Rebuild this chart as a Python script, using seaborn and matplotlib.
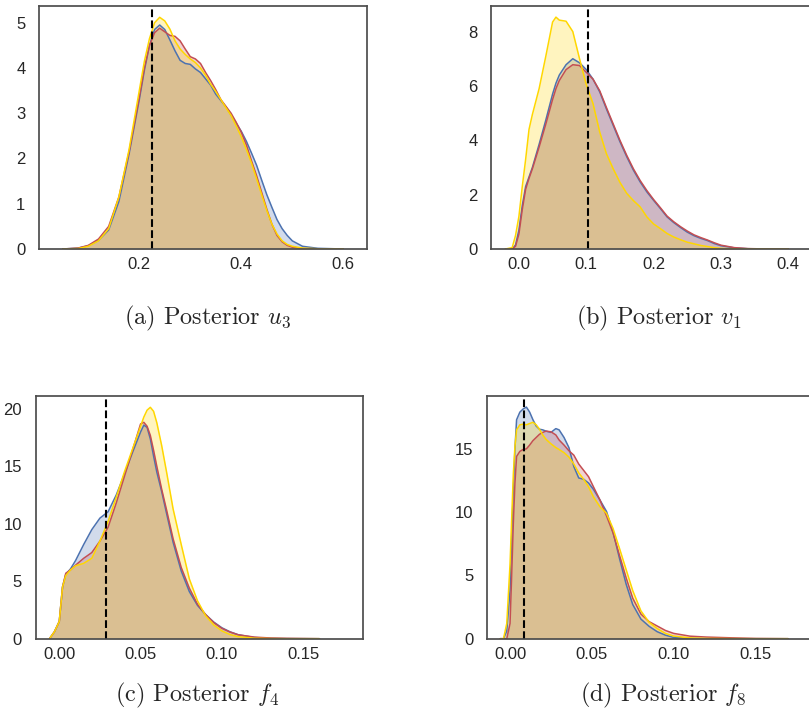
import numpy as np
import pandas as pd
import matplotlib
matplotlib.use("Agg")
import matplotlib.pyplot as plt
import seaborn as sns

# ---------------- data ----------------
series_names = ["blue", "red", "yellow"]
line_colors = {"blue": "#4C72B0", "red": "#C44E52", "yellow": "#FFD700"}

# (a) Posterior u3
a_x = [0.05, 0.08, 0.10, 0.12, 0.14, 0.16, 0.18, 0.20, 0.21, 0.22, 0.23, 0.24, 0.25,
       0.26, 0.27, 0.28, 0.29, 0.30, 0.31, 0.32, 0.33, 0.34, 0.35, 0.36, 0.37, 0.38,
       0.39, 0.40, 0.41, 0.42, 0.43, 0.44, 0.45, 0.46, 0.47, 0.48, 0.49, 0.50, 0.52,
       0.55, 0.60]
a_blue = [0, 0.02, 0.07, 0.19, 0.42, 1.05, 2.1, 3.3, 3.95, 4.5, 4.85, 4.95, 4.85,
          4.62, 4.38, 4.17, 4.1, 4.08, 3.98, 3.9, 3.76, 3.62, 3.42, 3.28, 3.14, 2.96,
          2.78, 2.6, 2.38, 2.12, 1.85, 1.52, 1.2, 0.92, 0.65, 0.45, 0.3, 0.18, 0.06,
          0.015, 0]
a_red = [0, 0.02, 0.08, 0.22, 0.5, 1.15, 2.15, 3.35, 4.0, 4.5, 4.78, 4.88, 4.8,
         4.72, 4.7, 4.6, 4.42, 4.25, 4.2, 4.1, 3.9, 3.72, 3.52, 3.3, 3.15, 3.0,
         2.8, 2.58, 2.3, 1.95, 1.62, 1.25, 0.88, 0.55, 0.3, 0.16, 0.08, 0.04, 0.01,
         0.005, 0]
a_yellow = [0, 0.01, 0.06, 0.18, 0.45, 1.15, 2.2, 3.5, 4.15, 4.65, 5.0, 5.12, 5.04,
            4.86, 4.6, 4.42, 4.3, 4.2, 4.12, 4.0, 3.84, 3.64, 3.48, 3.3, 3.12, 2.95,
            2.72, 2.48, 2.2, 1.9, 1.55, 1.2, 0.85, 0.55, 0.33, 0.18, 0.1, 0.06, 0.02,
            0.005, 0]
a_truth = 0.224

# (b) Posterior v1
b_x = [-0.02, -0.01, -0.005, 0.0, 0.005, 0.01, 0.015, 0.02, 0.03, 0.04, 0.05, 0.055,
       0.06, 0.07, 0.08, 0.09, 0.10, 0.11, 0.12, 0.13, 0.14, 0.15, 0.16, 0.17, 0.18,
       0.19, 0.20, 0.21, 0.22, 0.23, 0.24, 0.25, 0.26, 0.27, 0.28, 0.29, 0.30, 0.32,
       0.34, 0.37, 0.40]
b_blue = [0, 0, 0.15, 0.7, 1.6, 2.3, 2.65, 3.0, 3.85, 4.75, 5.7, 6.1,
          6.4, 6.78, 7.0, 6.85, 6.6, 6.25, 5.78, 5.15, 4.55, 3.95, 3.4, 2.9, 2.47,
          2.1, 1.79, 1.49, 1.18, 0.97, 0.79, 0.62, 0.49, 0.39, 0.31, 0.2, 0.12, 0.04,
          0.01, 0, 0]
b_red = [0, 0, 0.1, 0.55, 1.45, 2.2, 2.6, 2.95, 3.75, 4.6, 5.5, 5.9,
         6.2, 6.6, 6.78, 6.75, 6.5, 6.25, 5.82, 5.2, 4.6, 4.0, 3.45, 2.95, 2.52,
         2.15, 1.82, 1.52, 1.21, 1.0, 0.82, 0.66, 0.52, 0.42, 0.33, 0.23, 0.14, 0.05,
         0.015, 0, 0]
b_yellow = [0, 0.05, 0.5, 1.2, 2.3, 3.3, 4.4, 4.95, 5.9, 7.1, 8.35, 8.53,
            8.42, 8.38, 8.0, 7.0, 6.05, 5.35, 4.3, 3.5, 2.95, 2.45, 2.05, 1.78, 1.55,
            1.18, 0.92, 0.75, 0.57, 0.44, 0.34, 0.25, 0.19, 0.13, 0.09, 0.05, 0.02, 0.005,
            0, 0, 0]
b_truth = 0.103

# (c) Posterior f4
c_x = [-0.006, -0.003, 0.0, 0.002, 0.004, 0.007, 0.010, 0.015, 0.020, 0.025, 0.030,
       0.035, 0.040, 0.045, 0.050, 0.052, 0.054, 0.056, 0.058, 0.060, 0.063, 0.066,
       0.070, 0.075, 0.080, 0.085, 0.090, 0.095, 0.100, 0.105, 0.110, 0.120, 0.130,
       0.140, 0.160]
c_blue = [0, 0.6, 1.5, 4.5, 5.6, 6.1, 6.8, 8.2, 9.5, 10.5, 11.05,
          12.5, 14.3, 16.2, 18.0, 18.6, 18.4, 17.4, 15.9, 14.5, 12.8, 10.9,
          8.4, 5.9, 4.1, 2.9, 2.1, 1.45, 0.95, 0.6, 0.35, 0.1, 0.03,
          0.01, 0]
c_red = [0, 0.6, 1.5, 4.5, 5.7, 6.0, 6.4, 7.0, 7.5, 8.5, 9.7,
         11.8, 14.1, 16.4, 18.7, 18.84, 18.5, 17.7, 16.4, 15.0, 13.0, 11.2,
         8.7, 6.2, 4.4, 3.0, 2.1, 1.4, 0.9, 0.58, 0.34, 0.14, 0.06,
         0.03, 0]
c_yellow = [0, 0.6, 1.5, 4.5, 5.5, 6.0, 6.35, 6.56, 7.0, 8.5, 10.2,
            12.3, 14.5, 16.5, 18.5, 19.3, 19.9, 20.15, 19.8, 18.8, 16.8, 14.5,
            11.3, 8.2, 5.2, 3.3, 2.0, 1.2, 0.68, 0.36, 0.18, 0.04, 0.01,
            0, 0]
c_truth = 0.0288

# (d) Posterior f8
d_x = [-0.006, -0.004, -0.002, 0.0, 0.001, 0.002, 0.003, 0.004, 0.006, 0.008, 0.010,
       0.012, 0.014, 0.016, 0.018, 0.020, 0.022, 0.025, 0.028, 0.030, 0.033, 0.036,
       0.039, 0.042, 0.045, 0.048, 0.051, 0.055, 0.059, 0.063, 0.067, 0.071, 0.075,
       0.080, 0.085, 0.090, 0.095, 0.100, 0.110, 0.120, 0.135, 0.150, 0.170]
d_blue = [0, 0, 0.6, 3.8, 8.0, 11.7, 15.0, 17.3, 17.9, 18.15, 18.3,
          17.9, 17.3, 16.8, 16.55, 16.5, 16.4, 16.3, 16.6, 16.5, 15.9, 15.1,
          13.6, 12.7, 12.6, 12.3, 11.8, 10.95, 10.05, 8.4, 6.3, 4.3, 2.7,
          1.55, 0.98, 0.55, 0.28, 0.1, 0.02, 0.005, 0, 0, 0]
d_red = [0, 0, 0, 1.2, 5.0, 9.1, 12.3, 14.4, 14.8, 14.95, 15.0,
         15.3, 15.65, 15.9, 16.15, 16.3, 16.4, 16.35, 16.1, 15.7, 15.3, 14.85,
         14.5, 13.8, 13.3, 12.8, 12.0, 10.95, 9.7, 8.35, 6.55, 4.8, 3.2,
         1.95, 1.35, 1.0, 0.65, 0.42, 0.2, 0.13, 0.07, 0.02, 0]
d_yellow = [0, 0, 1.2, 5.9, 9.5, 13.0, 15.2, 16.5, 16.9, 16.95, 16.9,
            17.0, 17.1, 16.9, 16.55, 16.1, 15.75, 15.4, 15.1, 14.95, 14.7, 14.35,
            13.8, 13.1, 12.6, 12.0, 11.2, 10.42, 9.9, 8.7, 7.1, 5.45, 3.8,
            2.2, 1.3, 0.8, 0.42, 0.21, 0.06, 0.02, 0.005, 0, 0]
d_truth = 0.0086

captions = [r"(a) Posterior $u_3$", r"(b) Posterior $v_1$",
            r"(c) Posterior $f_4$", r"(d) Posterior $f_8$"]

a_xticks = [0.2, 0.4, 0.6]
a_yticks = [0, 1, 2, 3, 4, 5]
b_xticks = [0.0, 0.1, 0.2, 0.3, 0.4]
b_yticks = [0, 2, 4, 6, 8]
c_xticks = [0.00, 0.05, 0.10, 0.15]
c_yticks = [0, 5, 10, 15, 20]
d_xticks = [0.00, 0.05, 0.10, 0.15]
d_yticks = [0, 5, 10, 15]

# ---------------- style ----------------
sns.set_theme(style="white")
plt.rcParams["font.family"] = ["Liberation Sans", "DejaVu Sans"]
plt.rcParams["mathtext.fontset"] = "cm"
plt.rcParams["axes.edgecolor"] = "0.3"
plt.rcParams["axes.linewidth"] = 1.25
plt.rcParams["xtick.color"] = "0.15"
plt.rcParams["ytick.color"] = "0.15"

W, H = 809, 717
fig = plt.figure(figsize=(W / 100, H / 100), dpi=100)

def box(left, top, w, h):
    return [left / W, 1 - (top + h) / H, w / W, h / H]

panels = [
    dict(x=a_x, ys=[a_blue, a_red, a_yellow], truth=a_truth, pos=box(39.3, 6, 328, 243),
         xlim=(0.004, 0.647), ylim=(0, 5.37), xt=a_xticks, yt=a_yticks, fmt="%.1f",
         cap=(208, 318)),
    dict(x=b_x, ys=[b_blue, b_red, b_yellow], truth=b_truth, pos=box(491.3, 6, 328, 243),
         xlim=(-0.041, 0.446), ylim=(0, 8.94), xt=b_xticks, yt=b_yticks, fmt="%.1f",
         cap=(659, 318)),
    dict(x=c_x, ys=[c_blue, c_red, c_yellow], truth=c_truth, pos=box(35.7, 395.7, 327, 243),
         xlim=(-0.0145, 0.1866), ylim=(0, 21.16), xt=c_xticks, yt=c_yticks, fmt="%.2f",
         cap=(197, 695)),
    dict(x=d_x, ys=[d_blue, d_red, d_yellow], truth=d_truth, pos=box(487.3, 395.7, 327, 243),
         xlim=(-0.0139, 0.186), ylim=(0, 19.2), xt=d_xticks, yt=d_yticks, fmt="%.2f",
         cap=(663, 695)),
]

for i, p in enumerate(panels):
    ax = fig.add_axes(p["pos"])
    rows = []
    for name, ys in zip(series_names, p["ys"]):
        for xv, yv in zip(p["x"], ys):
            rows.append((name, xv, yv))
    df = pd.DataFrame(rows, columns=["series", "x", "density"])
    for name in series_names:
        sub = df[df["series"] == name]
        ax.fill_between(sub["x"], 0, sub["density"], color=line_colors[name],
                        alpha=0.25, linewidth=0)
        sns.lineplot(data=sub, x="x", y="density", color=line_colors[name],
                     linewidth=1.1, ax=ax, legend=False, sort=False)
    ax.axvline(p["truth"], color="black", linestyle="--", linewidth=1.5)
    ax.set_xlim(*p["xlim"])
    ax.set_ylim(*p["ylim"])
    ax.set_xticks(p["xt"])
    ax.set_yticks(p["yt"])
    ax.set_xticklabels([p["fmt"] % v for v in p["xt"]])
    ax.set_yticklabels([str(v) for v in p["yt"]])
    ax.tick_params(axis="x", labelsize=12, length=0, pad=6)
    ax.tick_params(axis="y", labelsize=12, length=0, pad=10)
    ax.set_xlabel("")
    ax.set_ylabel("")
    fig.text(p["cap"][0] / W, 1 - p["cap"][1] / H, captions[i], ha="center",
             va="center", fontsize=17.5, family="cmr10")

fig.savefig("out.png", dpi=100)
